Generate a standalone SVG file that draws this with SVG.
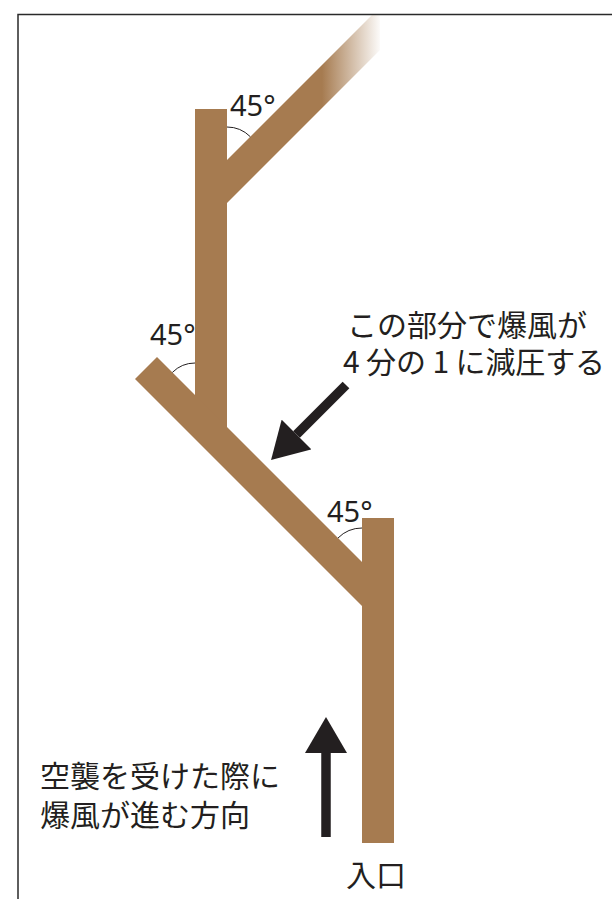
<svg xmlns="http://www.w3.org/2000/svg" width="612" height="899" viewBox="0 0 612 899">
  <defs>
    <style>
      .duct { fill: #a67b50; }
      .frame { fill: none; stroke: #2a2a2a; stroke-width: 1.5; }
      .angle { fill: none; stroke: #231f20; stroke-width: 1; }
      .deg { font-family: "Noto Sans", "Liberation Sans", sans-serif; font-size: 29px; fill: #231f20; }
      .jp { font-family: "Noto Sans CJK JP", "Noto Sans", sans-serif; font-size: 30px; fill: #231f20; }
      .blast { fill: none; stroke: #231f20; stroke-width: 9.5; stroke-linecap: butt; }
    </style>
    <!-- fade-out of the upper branch toward the open end -->
    <linearGradient id="fade" gradientUnits="userSpaceOnUse" x1="322" y1="0" x2="382" y2="0">
      <stop offset="0" stop-color="#a67b50" stop-opacity="1"/>
      <stop offset="1" stop-color="#a67b50" stop-opacity="0"/>
    </linearGradient>
    <marker id="head" viewBox="0 0 36 42" refX="0" refY="21" markerWidth="36" markerHeight="42" markerUnits="userSpaceOnUse" orient="auto">
      <path d="M0,0 L36,21 L0,42 z" fill="#231f20"/>
    </marker>
  </defs>

  <rect width="612" height="899" fill="#ffffff"/>

  <!-- frame -->
  <path class="frame" d="M18,899 L18,14.5 L612,14.5"/>

  <!-- tunnel shafts -->
  <g id="upper-branch">
    <polygon points="200,187 372,15 380,15 380,50 221.5,208.5" fill="url(#fade)"/>
  </g>
  <g id="upper-shaft">
    <rect class="duct" x="195" y="109" width="32" height="321"/>
  </g>
  <g id="middle-branch">
    <polygon class="duct" points="157,357 390,590 368,612 135,379"/>
  </g>
  <g id="entrance-shaft">
    <rect class="duct" x="362" y="518" width="32" height="325"/>
  </g>

  <!-- 45 degree angle marks -->
  <g id="angle-top">
    <path class="angle" d="M227,127 A33,33 0 0 1 250.3,136.7"/>
    <text class="deg" x="230" y="116">45°</text>
  </g>
  <g id="angle-middle">
    <path class="angle" d="M172.4,372.4 A32,32 0 0 1 195,363"/>
    <text class="deg" x="150" y="345">45°</text>
  </g>
  <g id="angle-bottom">
    <path class="angle" d="M338,538 A34,34 0 0 1 362,528"/>
    <text class="deg" x="327" y="522">45°</text>
  </g>

  <!-- arrows -->
  <g id="connectors">
    <path class="blast" d="M346,385 L296.5,434.5" marker-end="url(#head)"/>
    <path class="blast" d="M326,837 L326,753" marker-end="url(#head)"/>
  </g>

  <!-- labels -->
  <g id="note-pressure">
    <text class="jp" x="347" y="336">この部分で爆風が</text>
    <text class="jp" x="343" y="373" textLength="262">4 分の 1 に減圧する</text>
  </g>
  <g id="note-direction">
    <text class="jp" x="40" y="787">空襲を受けた際に</text>
    <text class="jp" x="40" y="826">爆風が進む方向</text>
  </g>
  <g id="entrance">
    <text class="jp" x="346" y="886">入口</text>
  </g>
</svg>
